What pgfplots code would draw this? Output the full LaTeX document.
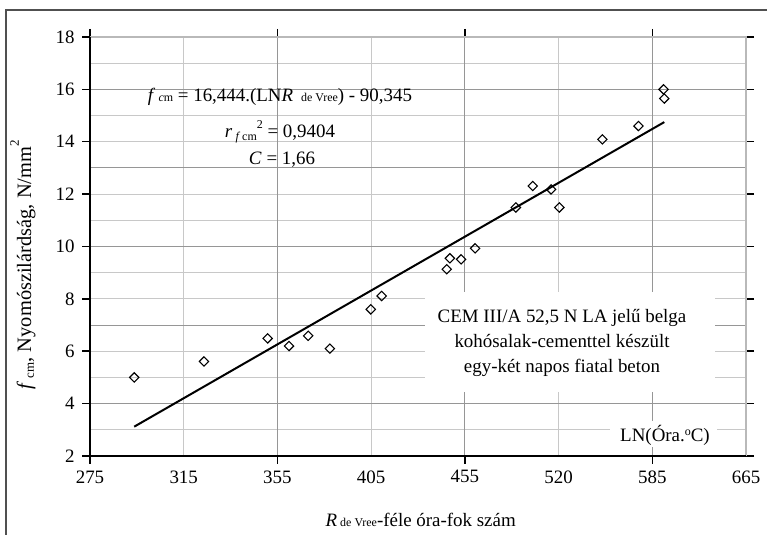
\documentclass[border=0pt]{standalone}
\usepackage{pgfplots}
\pgfplotsset{compat=1.18}
\usepackage{fontspec}
\setmainfont{Liberation Serif}
\definecolor{lightgrid}{RGB}{200,200,200}
\definecolor{darkgrid}{RGB}{150,150,150}
\definecolor{framegray}{RGB}{80,80,80}
\pgfplotstableread{
x y
5.684 5.00
5.777 5.61
5.862 6.49
5.8905 6.20
5.916 6.59
5.945 6.10
5.9995 7.60
6.014 8.11
6.1008 9.13
6.105 9.55
6.120 9.51
6.1386 9.93
6.193 11.49
6.2156 12.31
6.240 12.18
6.251 11.49
6.3084 14.09
6.3565 14.60
6.390 16.00
6.391 15.65
}\measured
\begin{document}
\begin{tikzpicture}[x=1bp,y=1bp]
\path[use as bounding box] (0,0) rectangle (767,535);
\draw[line width=2bp, framegray] (6,0) -- (6,525) -- (767,525);
\begin{axis}[
  at={(90bp,79bp)}, anchor=south west,
  width=656bp, height=419bp, scale only axis,
  xmin=5.625, xmax=6.5, ymin=2, ymax=18,
  axis line style={draw=none},
  clip=false,
  xtick={5.625,5.75,5.875,6.0,6.125,6.25,6.375,6.5},
  xticklabels={275,315,355,405,455,520,585,665},
  xtick style={draw=none},
  ytick={2,4,6,8,10,12,14,16,18},
  minor y tick num=1,
  ytick style={black, line width=1.5bp},
  tick align=outside,
  major tick length=8bp,
  minor tick length=0pt,
  grid=both,
  major grid style={lightgrid, line width=1bp},
  minor grid style={lightgrid, line width=1bp},
  extra x ticks={5.625,5.875,6.125,6.375},
  extra x tick labels={},
  extra x tick style={xtick style={draw=black, line width=1.5bp}, major grid style={darkgrid, line width=1bp}},
  extra y ticks={4,7,10,13,16},
  extra y tick labels={},
  extra y tick style={ytick style={draw=none}, major grid style={darkgrid, line width=1bp}},
  /pgf/number format/assume math mode=true,
  ticklabel style={font=\fontsize{19}{19}\selectfont},
  xticklabel style={yshift=-3bp},
  yticklabel style={xshift=-4bp},
]
\addplot[black, line width=2bp, no marks] coordinates {(5.684,3.12) (6.391,14.75)};
\addplot[only marks, mark=square, mark size=3.3bp, mark options={rotate=45, draw=black, fill=white, line width=1.1bp}] table[x=x,y=y] {\measured};
\end{axis}
% axis frame
\draw[gray!55, line width=2.5bp] (90,498) -- (746,498) -- (746,79);
\draw[black, line width=2.5bp] (90,498) -- (90,79) -- (746,79);
% white boxes
\fill[white] (425,143) rectangle (715,243);
\fill[white] (610,88) rectangle (717,114);
\node[anchor=base, font=\fontsize{19}{19}\selectfont] at (562,212) {CEM III/A 52,5 N LA jelű belga};
\node[anchor=base, font=\fontsize{19}{19}\selectfont] at (562,187) {kohósalak-cementtel készült};
\node[anchor=base, font=\fontsize{19}{19}\selectfont] at (562,162) {egy-két napos fiatal beton};
\node[anchor=base, font=\fontsize{19}{19}\selectfont] at (665,93) {LN(Óra.\raisebox{0.8ex}{\fontsize{12}{12}\selectfont o}C)};
% equation
\node[anchor=base, font=\fontsize{19}{19}\selectfont] at (280,433) {\textit{f}\,{\fontsize{12}{12}\selectfont\textit{c}m} = 16,444.(LN\textit{R}\, {\fontsize{12}{12}\selectfont de Vree}) - 90,345};
\node[anchor=base, font=\fontsize{19}{19}\selectfont] at (280,397) {\textit{r}\,\raisebox{-0.3ex}{\fontsize{12}{12}\selectfont\textit{f}\,cm}\raisebox{1.1ex}{\fontsize{12}{12}\selectfont 2} = 0,9404};
\node[anchor=base, font=\fontsize{19}{19}\selectfont] at (282,370) {\textit{C} = 1,66};
% axis labels
\node[anchor=base west, font=\fontsize{19}{19}\selectfont] at (322,8) {\textit{R}\,{\fontsize{12}{12}\selectfont de Vree}-féle óra-fok szám};
\node[rotate=90, anchor=base west, font=\fontsize{20.5}{20.5}\selectfont] at (31,142) {\textit{f}\,\raisebox{-0.3ex}{\fontsize{13}{13}\selectfont cm}, Nyomószilárdság, N/mm\raisebox{1.3ex}{\fontsize{13}{13}\selectfont 2}};
\end{tikzpicture}
\end{document}
